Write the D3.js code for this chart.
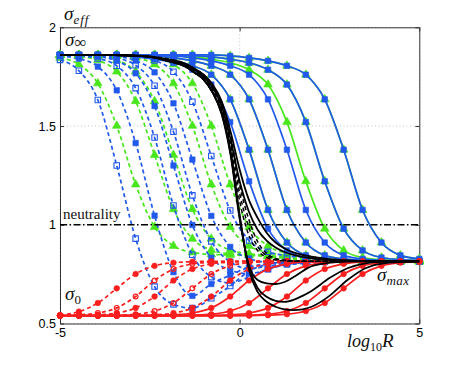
<!DOCTYPE html>
<html lang="en">
<head>
<meta charset="UTF-8">
<title>sigma_eff vs log10 R</title>
<script src="https://cdn.jsdelivr.net/npm/d3@7"></script>
<style>
  body { margin: 0; background: #fff; }
  svg { display: block; }
</style>
</head>
<body>
<div id="chart"></div>
<script>
// marker grid (log10 R) for the coloured curves
const xs = [-5, -4.474, -3.947, -3.421, -2.895, -2.368, -1.842, -1.316, -0.789, -0.263,
            0.263, 0.789, 1.316, 1.842, 2.368, 2.895, 3.421, 3.947, 4.474, 5];
// grid for the black curves (no markers)
const xb = [-5, -4, -3, -2.5, -2, -1.5, -1.25, -1, -0.75, -0.5, -0.25, 0, 0.25, 0.5, 0.75,
            1, 1.25, 1.5, 1.75, 2, 2.5, 3, 3.5, 4, 5];

const xTicks = [-5, 0, 5];
const yTicks = [0.5, 1, 1.5, 2];
const neutrality = 1;

// dashed green (triangles)
const gDash1 = [1.845,1.812,1.716,1.501,1.204,0.989,0.893,0.860,0.850,0.847,0.845,0.84,0.83,0.822,0.818,0.815,0.815,0.815,0.815,0.815];
const gDash2 = [1.857,1.852,1.833,1.776,1.626,1.353,1.079,0.929,0.872,0.853,0.848,0.84,0.83,0.822,0.818,0.815,0.815,0.815,0.815,0.815];
const gDash3 = [1.86,1.857,1.852,1.833,1.776,1.626,1.353,1.079,0.929,0.872,0.853,0.845,0.835,0.825,0.818,0.815,0.815,0.815,0.815,0.815];
const gDash4 = [1.86,1.86,1.858,1.855,1.845,1.812,1.716,1.501,1.204,0.989,0.893,0.860,0.845,0.83,0.82,0.817,0.815,0.815,0.815,0.815];
const gDash5 = [1.86,1.86,1.86,1.858,1.855,1.845,1.812,1.716,1.501,1.204,0.989,0.893,0.855,0.835,0.823,0.818,0.815,0.815,0.815,0.815];

// dashed blue (squares, open / filled)
const bDash1 = [1.835,1.78,1.632,1.30,0.93,0.687,0.597,0.578,0.628,0.69,0.765,0.80,0.812,0.815,0.815,0.815,0.815,0.815,0.815,0.815];
const bDash2 = [1.854,1.841,1.801,1.681,1.414,1.046,0.76,0.64,0.70,0.745,0.785,0.805,0.813,0.815,0.815,0.815,0.815,0.815,0.815,0.815];
const bDash3 = [1.858,1.855,1.842,1.805,1.692,1.442,1.098,0.848,0.735,0.705,0.735,0.775,0.80,0.81,0.815,0.815,0.815,0.815,0.815,0.815];
const bDash4 = [1.859,1.857,1.851,1.830,1.767,1.601,1.30,0.999,0.833,0.77,0.752,0.775,0.80,0.81,0.815,0.815,0.815,0.815,0.815,0.815];
const bDash5 = [1.86,1.858,1.855,1.844,1.808,1.704,1.471,1.149,0.916,0.812,0.778,0.79,0.805,0.812,0.815,0.815,0.815,0.815,0.815,0.815];
const bDash6 = [1.86,1.86,1.857,1.852,1.831,1.772,1.615,1.33,1.045,0.888,0.829,0.808,0.80,0.805,0.81,0.815,0.815,0.815,0.815,0.815];
const bDash7 = [1.86,1.86,1.86,1.857,1.852,1.832,1.775,1.623,1.348,1.072,0.92,0.863,0.843,0.835,0.828,0.82,0.817,0.815,0.815,0.815];

// dashed red (circles, rising from sigma_0)
const rDash1 = [0.542,0.56,0.604,0.678,0.751,0.792,0.808,0.813,0.815,0.815,0.815,0.815,0.815,0.815,0.815,0.815,0.815,0.815,0.815,0.815];
const rDash2 = [0.541,0.544,0.553,0.579,0.637,0.718,0.776,0.802,0.811,0.814,0.815,0.815,0.815,0.815,0.815,0.815,0.815,0.815,0.815,0.815];
const rDash3 = [0.54,0.541,0.544,0.553,0.579,0.637,0.718,0.776,0.802,0.811,0.814,0.815,0.815,0.815,0.815,0.815,0.815,0.815,0.815,0.815];
const rDash4 = [0.54,0.54,0.541,0.542,0.547,0.563,0.604,0.678,0.751,0.792,0.808,0.813,0.815,0.815,0.815,0.815,0.815,0.815,0.815,0.815];
const rDash5 = [0.54,0.54,0.54,0.54,0.541,0.544,0.553,0.579,0.637,0.718,0.776,0.802,0.811,0.814,0.815,0.815,0.815,0.815,0.815,0.815];

// solid blue / green (falling to sigma_max); pairs share one array
const bSolid0 = [1.86,1.86,1.86,1.857,1.85,1.838,1.82,1.785,1.71,1.52,1.22,0.98,0.87,0.834,0.823,0.818,0.815,0.815,0.815,0.815];
const solid10 = [1.86,1.86,1.86,1.86,1.855,1.845,1.83,1.805,1.76,1.635,1.38,1.075,0.91,0.845,0.827,0.82,0.817,0.815,0.815,0.815];
const solid11 = [1.86,1.86,1.86,1.86,1.86,1.855,1.845,1.83,1.805,1.76,1.635,1.38,1.075,0.91,0.845,0.827,0.82,0.817,0.815,0.815];
const bSolid12 = [1.86,1.86,1.86,1.86,1.86,1.86,1.855,1.845,1.83,1.805,1.76,1.635,1.38,1.075,0.91,0.845,0.827,0.82,0.817,0.815];
const gSolid12 = [1.86,1.86,1.86,1.86,1.86,1.86,1.857,1.85,1.838,1.82,1.785,1.71,1.52,1.22,0.98,0.87,0.834,0.823,0.818,0.815];
const solid13 = [1.86,1.86,1.86,1.86,1.86,1.86,1.86,1.857,1.85,1.838,1.82,1.785,1.71,1.52,1.22,0.98,0.87,0.834,0.823,0.818];
const solid15 = [1.86,1.86,1.86,1.86,1.86,1.86,1.86,1.86,1.86,1.855,1.845,1.83,1.805,1.76,1.635,1.38,1.075,0.91,0.845,0.827];

// solid red (rising from sigma_0)
const rSolid1 = [0.54,0.54,0.54,0.54,0.54,0.541,0.544,0.553,0.579,0.637,0.718,0.776,0.802,0.811,0.814,0.815,0.815,0.815,0.815,0.815];
const rSolid2 = [0.54,0.54,0.54,0.54,0.54,0.54,0.54,0.542,0.547,0.563,0.604,0.678,0.751,0.792,0.808,0.813,0.815,0.815,0.815,0.815];
const rSolid3 = [0.54,0.54,0.54,0.54,0.54,0.54,0.54,0.54,0.541,0.544,0.553,0.579,0.637,0.718,0.776,0.802,0.811,0.814,0.815,0.815];
const rSolid4 = [0.54,0.54,0.54,0.54,0.54,0.54,0.54,0.54,0.54,0.54,0.542,0.547,0.563,0.604,0.678,0.751,0.792,0.808,0.813,0.815];
const rSolid5 = [0.54,0.54,0.54,0.54,0.54,0.54,0.54,0.54,0.54,0.54,0.54,0.542,0.547,0.563,0.604,0.678,0.751,0.792,0.808,0.813];

// black curves
const kDip1 = [1.86,1.86,1.857,1.85,1.83,1.80,1.77,1.735,1.67,1.56,1.35,1.03,0.80,0.72,0.703,0.70,0.71,0.735,0.765,0.79,0.808,0.814,0.815,0.815,0.815];
const kDip2 = [1.86,1.86,1.857,1.85,1.83,1.80,1.77,1.735,1.67,1.565,1.36,1.04,0.79,0.68,0.635,0.615,0.61,0.62,0.64,0.665,0.73,0.78,0.805,0.813,0.815];
const kDip3 = [1.86,1.86,1.857,1.85,1.83,1.80,1.77,1.735,1.67,1.57,1.37,1.05,0.78,0.66,0.61,0.585,0.572,0.568,0.572,0.585,0.64,0.72,0.78,0.805,0.815];
const kFlat1 = [1.86,1.86,1.857,1.852,1.835,1.81,1.785,1.75,1.695,1.60,1.43,1.22,1.07,0.975,0.92,0.885,0.862,0.847,0.837,0.83,0.822,0.818,0.816,0.815,0.815];
const kFlat2 = [1.86,1.86,1.858,1.853,1.838,1.815,1.79,1.76,1.71,1.625,1.47,1.28,1.13,1.035,0.96,0.91,0.88,0.86,0.847,0.838,0.826,0.82,0.817,0.815,0.815];
const kDash1 = [1.86,1.86,1.857,1.851,1.833,1.805,1.778,1.745,1.685,1.585,1.40,1.12,0.95,0.87,0.835,0.822,0.817,0.815,0.815,0.815,0.815,0.815,0.815,0.815,0.815];
const kDash2 = [1.86,1.86,1.858,1.852,1.836,1.81,1.785,1.752,1.695,1.60,1.42,1.16,0.99,0.89,0.845,0.826,0.819,0.816,0.815,0.815,0.815,0.815,0.815,0.815,0.815];
const kDash3 = [1.86,1.86,1.858,1.853,1.84,1.815,1.79,1.76,1.705,1.615,1.45,1.20,1.03,0.915,0.855,0.83,0.82,0.817,0.815,0.815,0.815,0.815,0.815,0.815,0.815];

const blue = "#2159ec", green = "#48e61c", red = "#fb1e1e", black = "#000";

const W = 463, H = 365;
const x = d3.scaleLinear().domain([-5, 5]).range([60, 419.3]);
const y = d3.scaleLinear().domain([0.5, 2]).range([323.5, 27.3]);

const svg = d3.select("#chart").append("svg")
  .attr("width", W).attr("height", H)
  .style("font-family", "'Liberation Sans', Arial, sans-serif");

// dotted grid
svg.append("g").selectAll("line").data(xTicks).enter().append("line")
  .attr("x1", d => x(d)).attr("x2", d => x(d))
  .attr("y1", y(2)).attr("y2", y(0.5))
  .attr("stroke", "#b8b8b8").attr("stroke-width", 0.8).attr("stroke-dasharray", "1,2.5");
svg.append("g").selectAll("line").data(yTicks).enter().append("line")
  .attr("x1", x(-5)).attr("x2", x(5))
  .attr("y1", d => y(d)).attr("y2", d => y(d))
  .attr("stroke", "#b8b8b8").attr("stroke-width", 0.8).attr("stroke-dasharray", "1,2.5");

// axes (ticks point inward, like matlab)
const axL = svg.append("g").attr("transform", `translate(${x(-5)},0)`)
  .call(d3.axisLeft(y).tickValues(yTicks).tickFormat(d => String(d)).tickSize(-4).tickSizeOuter(0).tickPadding(4));
const axB = svg.append("g").attr("transform", `translate(0,${y(0.5)})`)
  .call(d3.axisBottom(x).tickValues(xTicks).tickFormat(d => String(d)).tickSize(-4).tickSizeOuter(0).tickPadding(5));
const axR = svg.append("g").attr("transform", `translate(${x(5)},0)`)
  .call(d3.axisRight(y).tickValues(yTicks).tickFormat("").tickSize(-4).tickSizeOuter(0));
const axT = svg.append("g").attr("transform", `translate(0,${y(2)})`)
  .call(d3.axisTop(x).tickValues(xTicks).tickFormat("").tickSize(-4).tickSizeOuter(0));
[axL, axB, axR, axT].forEach(a => {
  a.selectAll("path").attr("stroke", "#333").attr("stroke-width", 1);
  a.selectAll("line").attr("stroke", "#333");
  a.selectAll("text").attr("fill", "#000").style("font-size", "12.5px")
    .style("font-family", "'Liberation Sans', Arial, sans-serif");
});

// series
const plot = svg.append("g");
const sq = d3.symbol().type(d3.symbolSquare).size(30);
const tri = d3.symbol().type(d3.symbolTriangle).size(32);

function drawSeries(xv, yv, s) {
  const g = plot.append("g");
  g.append("path").datum(yv)
    .attr("d", d3.line().x((d, i) => x(xv[i])).y(d => y(d)).curve(d3.curveMonotoneX))
    .attr("fill", "none").attr("stroke", s.c).attr("stroke-width", s.w || 1.7)
    .attr("stroke-dasharray", s.dash ? "4,3" : null);
  if (!s.m) return;
  const pts = g.selectAll(".m").data(yv).enter();
  const tr = (d, i) => `translate(${x(xv[i])},${y(d)})`;
  if (s.m === "circle" || s.m === "ocircle") {
    pts.append("circle").attr("cx", (d, i) => x(xv[i])).attr("cy", d => y(d))
      .attr("r", s.m === "circle" ? 2.8 : 2.4)
      .attr("fill", s.m === "circle" ? s.c : "none")
      .attr("stroke", s.c).attr("stroke-width", s.m === "circle" ? 0.6 : 1.2);
  } else {
    const gen = s.m === "tri" ? tri : sq;
    pts.append("path").attr("transform", tr).attr("d", gen)
      .attr("fill", s.m === "osq" ? "none" : s.c)
      .attr("stroke", s.c).attr("stroke-width", s.m === "osq" ? 1.1 : 0.6);
  }
}

[
  { y: gDash1, c: green, dash: 1, m: "tri" },
  { y: gDash2, c: green, dash: 1, m: "tri" },
  { y: gDash3, c: green, dash: 1, m: "tri" },
  { y: gDash4, c: green, dash: 1, m: "tri" },
  { y: gDash5, c: green, dash: 1, m: "tri" },
  { y: bDash1, c: blue, dash: 1, m: "osq" },
  { y: bDash2, c: blue, dash: 1, m: "sq" },
  { y: bDash3, c: blue, dash: 1, m: "osq" },
  { y: bDash4, c: blue, dash: 1, m: "sq" },
  { y: bDash5, c: blue, dash: 1, m: "osq" },
  { y: bDash6, c: blue, dash: 1, m: "sq" },
  { y: bDash7, c: blue, dash: 1, m: "osq" },
  { y: rDash1, c: red, dash: 1, m: "circle" },
  { y: rDash2, c: red, dash: 1, m: "ocircle" },
  { y: rDash3, c: red, dash: 1, m: "circle" },
  { y: rDash4, c: red, dash: 1, m: "ocircle" },
  { y: rDash5, c: red, dash: 1, m: "circle" },
  { y: solid10, c: green, m: "tri" },
  { y: solid11, c: green, m: "tri" },
  { y: gSolid12, c: green, m: "tri" },
  { y: solid13, c: green, m: "tri" },
  { y: solid15, c: green, m: "tri" },
  { y: bSolid0, c: blue, m: "sq" },
  { y: solid10, c: blue, m: "sq" },
  { y: solid11, c: blue, m: "sq" },
  { y: bSolid12, c: blue, m: "sq" },
  { y: solid13, c: blue, m: "sq" },
  { y: solid15, c: blue, m: "sq" },
  { y: rSolid1, c: red, m: "circle" },
  { y: rSolid2, c: red, m: "circle" },
  { y: rSolid3, c: red, m: "circle" },
  { y: rSolid4, c: red, m: "circle" },
  { y: rSolid5, c: red, m: "circle" }
].forEach(s => drawSeries(xs, s.y, s));

[
  { y: kDash1, c: black, dash: 1, w: 1.5 },
  { y: kDash2, c: black, dash: 1, w: 1.5 },
  { y: kDash3, c: black, dash: 1, w: 1.5 },
  { y: kFlat1, c: black, w: 1.8 },
  { y: kFlat2, c: black, w: 1.8 },
  { y: kDip1, c: black, w: 1.8 },
  { y: kDip2, c: black, w: 1.8 },
  { y: kDip3, c: black, w: 1.8 }
].forEach(s => drawSeries(xb, s.y, s));

// neutrality line
svg.append("line")
  .attr("x1", x(-5)).attr("x2", x(5))
  .attr("y1", y(neutrality)).attr("y2", y(neutrality))
  .attr("stroke", "#000").attr("stroke-width", 1.4).attr("stroke-dasharray", "7,2.5,1.5,2.5");

// labels
const serif = "'Liberation Serif', 'DejaVu Serif', serif";
function label(px, py, parts) {
  const t = svg.append("text").attr("x", px).attr("y", py)
    .style("font-family", serif).attr("fill", "#111");
  parts.forEach(p => {
    t.append("tspan").text(p.t).attr("dy", p.dy || 0)
      .style("font-size", p.s + "px").style("font-style", p.i ? "italic" : "normal")
      .style("letter-spacing", p.ls || 0);
  });
}
label(x(-5) + 4, 20, [{ t: "σ", s: 19, i: 1 }, { t: "eff", s: 13, i: 1, dy: 4, ls: "1px" }]);
label(x(-5) + 5, 46, [{ t: "σ", s: 19, i: 1 }, { t: "∞", s: 17, dy: 2 }]);
label(x(-5) + 5, 300, [{ t: "σ", s: 19, i: 1 }, { t: "0", s: 13, dy: 4 }]);
label(377, 281, [{ t: "σ", s: 19, i: 1 }, { t: "max", s: 13, i: 1, dy: 4, ls: "0.5px" }]);
label(347, 347, [{ t: "log", s: 18, i: 1 }, { t: "10", s: 12, dy: 4 }, { t: "R", s: 19, i: 1, dy: -4 }]);
svg.append("text").attr("x", x(-5) + 3).attr("y", y(neutrality) - 6)
  .style("font-family", serif).style("font-size", "15px").attr("fill", "#111")
  .text("neutrality");
</script>
</body>
</html>
